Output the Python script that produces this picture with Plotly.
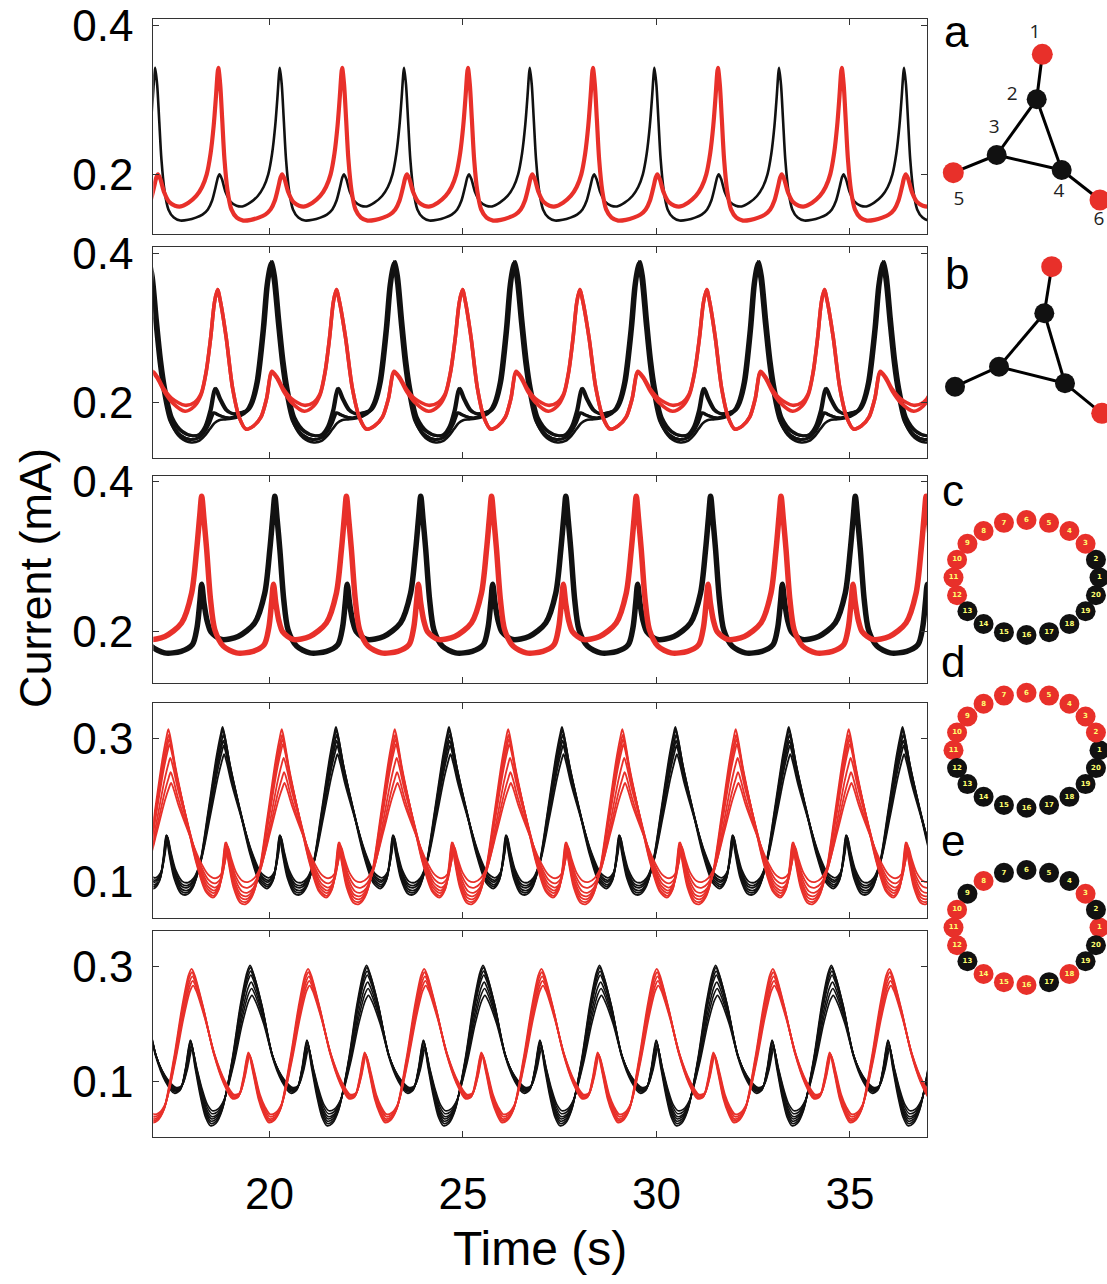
import numpy as np
import plotly.graph_objects as go

W, H = 1107, 1284
BLACK = '#111111'
RED = '#e8302a'
YELLOW = '#ffff70'

# ---------------- data ----------------
# Panel a : big-peak times (s) of each waveform, one-cycle template (s, mA)
a_black_peaks = [13.83, 17.05, 20.27, 23.48, 26.73, 29.95, 33.17, 36.40, 39.60]
a_red_peaks = [15.46, 18.68, 21.88, 25.13, 28.36, 31.59, 34.79, 38.00]
a_tpl_s = [0.00, 0.05, 0.10, 0.16, 0.24, 0.34, 0.48, 0.65, 0.85, 1.05, 1.22, 1.36, 1.47, 1.56,
           1.62, 1.66, 1.72, 1.82, 1.95, 2.10, 2.25, 2.45, 2.65, 2.80, 2.92, 3.02, 3.10, 3.16, 3.20, 3.22]
a_tpl_v = [0.343, 0.320, 0.275, 0.220, 0.178, 0.153, 0.142, 0.138, 0.139, 0.142, 0.146, 0.153, 0.165, 0.183,
           0.196, 0.200, 0.194, 0.176, 0.163, 0.158, 0.157, 0.162, 0.171, 0.183, 0.200, 0.228, 0.265, 0.305, 0.335, 0.343]

# Panel b
b_black_peaks = [16.88, 20.04, 23.22, 26.32, 29.55, 32.62, 35.85, 39.00]
b_red_peaks = [15.55, 18.66, 21.73, 24.99, 28.02, 31.30, 34.34, 37.50]
b_black_s = [0.00, 0.08, 0.19, 0.30, 0.40, 0.58, 0.83, 1.10, 1.30, 1.45, 1.58, 1.70, 1.82, 1.98, 2.13,
             2.35, 2.55, 2.66, 2.80, 2.96, 3.06, 3.16]
b_black_v1 = [0.390, 0.370, 0.310, 0.255, 0.219, 0.179, 0.161, 0.155, 0.157, 0.168, 0.190, 0.219, 0.205, 0.190, 0.185,
              0.186, 0.190, 0.200, 0.228, 0.300, 0.360, 0.390]
b_black_v2 = [0.387, 0.367, 0.308, 0.253, 0.217, 0.175, 0.156, 0.150, 0.152, 0.160, 0.172, 0.186, 0.183, 0.180, 0.179,
              0.183, 0.189, 0.199, 0.227, 0.298, 0.358, 0.387]
b_black_v3 = [0.385, 0.365, 0.306, 0.251, 0.215, 0.172, 0.152, 0.146, 0.148, 0.155, 0.164, 0.172, 0.176, 0.177, 0.178,
              0.181, 0.188, 0.198, 0.226, 0.296, 0.356, 0.385]
b_red_s = [0.00, 0.08, 0.23, 0.40, 0.58, 0.75, 0.95, 1.15, 1.30, 1.44, 1.58, 1.75, 1.96, 2.30, 2.55,
           2.72, 2.85, 2.97, 3.07, 3.15]
b_red_vA = [0.352, 0.335, 0.287, 0.219, 0.179, 0.164, 0.168, 0.180, 0.205, 0.240, 0.232, 0.215, 0.200, 0.188, 0.195,
            0.210, 0.240, 0.287, 0.335, 0.352]
b_red_vB = [0.352, 0.335, 0.287, 0.219, 0.179, 0.164, 0.168, 0.180, 0.205, 0.242, 0.234, 0.218, 0.205, 0.196, 0.200,
            0.212, 0.241, 0.287, 0.335, 0.352]

# Panel c
c_black_peaks = [16.39, 20.14, 23.91, 27.66, 31.40, 35.14, 38.89]
c_red_peaks = [14.50, 18.25, 21.99, 25.74, 29.48, 33.22, 36.97, 40.72]
c_tpl_s = [0.00, 0.06, 0.13, 0.23, 0.34, 0.56, 0.90, 1.33, 1.62, 1.74, 1.81, 1.86, 1.92, 2.00, 2.10,
           2.37, 2.80, 3.23, 3.49, 3.62, 3.70, 3.75]
c_tpl_v = [0.381, 0.350, 0.309, 0.242, 0.202, 0.180, 0.171, 0.173, 0.182, 0.205, 0.238, 0.263, 0.238, 0.214, 0.199,
           0.189, 0.193, 0.211, 0.251, 0.309, 0.355, 0.381]

# Panel d (bundles: peak / trough level and small time lag of each trace)
d_black_peaks = [15.86, 18.79, 21.72, 24.64, 27.56, 30.49, 33.42, 36.36, 39.29]
d_red_peaks = [14.46, 17.39, 20.32, 23.24, 26.17, 29.12, 32.05, 34.97, 37.90]
d_tpl_s = [0.00, 0.07, 0.19, 0.45, 0.71, 0.96, 1.15, 1.30, 1.40, 1.47, 1.55, 1.68, 1.85, 2.00, 2.15,
           2.34, 2.56, 2.77, 2.88, 2.93]
d_tpl_v = [0.315, 0.300, 0.266, 0.206, 0.150, 0.113, 0.105, 0.115, 0.145, 0.174, 0.150, 0.118, 0.099, 0.097, 0.105,
           0.136, 0.206, 0.276, 0.305, 0.315]
d_black_hi = [0.316, 0.312, 0.305, 0.297, 0.290, 0.278]
d_black_lo = [0.082, 0.085, 0.088, 0.092, 0.095, 0.099]
d_black_lag = [0.00, 0.01, 0.02, 0.02, 0.03, 0.04]
d_red_hi = [0.313, 0.305, 0.299, 0.292, 0.273, 0.253, 0.238]
d_red_lo = [0.069, 0.072, 0.076, 0.080, 0.085, 0.092, 0.100]
d_red_lag = [0.00, 0.01, 0.02, 0.03, 0.05, 0.06, 0.07]

# Panel e
e_black_peaks = [16.49, 19.50, 22.51, 25.52, 28.53, 31.53, 34.52, 37.52]
e_red_peaks = [14.99, 17.99, 21.00, 24.00, 27.03, 30.01, 33.01, 36.02, 39.00]
e_tpl_s = [0.00, 0.08, 0.30, 0.56, 0.82, 1.05, 1.20, 1.33, 1.46, 1.58, 1.72, 1.85, 1.98, 2.12, 2.28,
           2.54, 2.75, 2.92, 3.00]
e_red_v = [0.296, 0.285, 0.230, 0.154, 0.102, 0.075, 0.078, 0.110, 0.154, 0.120, 0.075, 0.050, 0.035, 0.038, 0.056,
           0.143, 0.230, 0.285, 0.296]
e_black_v = [0.302, 0.290, 0.235, 0.150, 0.105, 0.085, 0.090, 0.125, 0.175, 0.130, 0.080, 0.045, 0.030, 0.034, 0.056,
             0.143, 0.235, 0.290, 0.302]
e_black_hi = [0.302, 0.298, 0.292, 0.285, 0.273, 0.262, 0.250]
e_black_lo = [0.024, 0.028, 0.032, 0.036, 0.040, 0.045, 0.050]
e_black_lag = [0.00, 0.01, 0.015, 0.02, 0.03, 0.04, 0.05]
e_red_hi = [0.296, 0.290, 0.283, 0.275, 0.267]
e_red_lo = [0.030, 0.033, 0.036, 0.040, 0.044]
e_red_lag = [0.00, 0.01, 0.02, 0.03, 0.04]

# Axis ticks
x_ticks = [20, 25, 30, 35]
y_ticks_abc = [0.2, 0.4]
y_ticks_de = [0.1, 0.3]
panel_letters = ['a', 'b', 'c', 'd', 'e']

# Network diagrams (a, b): node positions in figure pixels, colours
net_edges = [(0, 1), (1, 2), (1, 3), (2, 3), (2, 4), (3, 5)]
net_a_x = [1042.3, 1036.7, 996.7, 1061.7, 953.3, 1100.0]
net_a_y = [54.3, 99.3, 155.0, 170.0, 172.7, 200.0]
net_a_red = [True, False, False, False, True, True]
net_a_lbl = ['1', '2', '3', '4', '5', '6']
net_a_lbl_x = [1035.0, 1012.3, 994.3, 1059.0, 959.0, 1099.0]
net_a_lbl_y = [33.3, 95.0, 128.3, 192.7, 200.0, 220.0]
net_b_x = [1051.7, 1044.3, 999.0, 1065.0, 955.0, 1101.7]
net_b_y = [266.7, 313.3, 366.7, 383.3, 386.7, 413.3]
net_b_red = [True, False, False, False, False, True]

# Ring diagrams (c, d, e): nodes 1..20, which are red
ring_nodes = list(range(1, 21))
ring_c_red = [3, 4, 5, 6, 7, 8, 9, 10, 11, 12]
ring_d_red = [2, 3, 4, 5, 6, 7, 8, 9, 10, 11]
ring_e_red = [1, 3, 8, 10, 11, 12, 14, 15, 16, 18]

# ---------------- layout geometry (pixels) ----------------
PX_L, PX_R = 153.3, 927.3
panel_px = [(19.3, 234.0), (247.3, 458.0), (476.0, 682.7), (703.3, 917.7), (931.3, 1137.3)]
panel_yrange = [(0.120, 0.408), (0.125, 0.409), (0.131, 0.408), (0.050, 0.349), (0.004, 0.361)]
ring_centers = [(1026.5, 577.5), (1026.5, 750.3), (1026.5, 927.5)]
RING_RX, RING_RY = 73.0, 57.5


def build(peaks, tpl_s, tpl_v, lag=0.0):
    s = np.asarray(tpl_s, float)
    v = np.asarray(tpl_v, float)
    ph = s / s[-1]
    ts, vs = [], []
    for p0, p1 in zip(peaks[:-1], peaks[1:]):
        ts.extend((p0 + lag + ph[:-1] * (p1 - p0)).tolist())
        vs.extend(v[:-1].tolist())
    ts.append(peaks[-1] + lag)
    vs.append(float(v[-1]))
    return ts, vs


def rescale(tpl_v, lo, hi):
    v = np.asarray(tpl_v, float)
    return (lo + (v - v.min()) * (hi - lo) / (v.max() - v.min())).tolist()


fig = go.Figure()


def add_line(i, peaks, s, v, color, width, lag=0.0):
    t, y = build(peaks, s, v, lag)
    fig.add_trace(go.Scatter(x=t, y=y, mode='lines',
                             line=dict(color=color, width=width, shape='spline', smoothing=0.8),
                             xaxis='x' + ('' if i == 1 else str(i)), yaxis='y' + ('' if i == 1 else str(i)),
                             hoverinfo='skip'))


# panel a
add_line(1, a_black_peaks, a_tpl_s, a_tpl_v, BLACK, 2.6)
add_line(1, a_red_peaks, a_tpl_s, a_tpl_v, RED, 4.2)
# panel b
for vv in (b_black_v1, b_black_v2, b_black_v3):
    add_line(2, b_black_peaks, b_black_s, vv, BLACK, 2.6)
add_line(2, b_black_peaks, b_black_s, b_black_v1, BLACK, 3.0, 0.04)
add_line(2, b_black_peaks, b_black_s, b_black_v2, BLACK, 3.0, -0.03)
for vv in (b_red_vA, b_red_vB):
    add_line(2, b_red_peaks, b_red_s, vv, RED, 3.6)
# panel c
add_line(3, c_black_peaks, c_tpl_s, c_tpl_v, BLACK, 5.5)
add_line(3, c_red_peaks, c_tpl_s, c_tpl_v, RED, 5.5)
# panel d
for hi, lo, lg in zip(d_black_hi, d_black_lo, d_black_lag):
    add_line(4, d_black_peaks, d_tpl_s, rescale(d_tpl_v, lo, hi), BLACK, 1.8, lg)
for hi, lo, lg in zip(d_red_hi, d_red_lo, d_red_lag):
    add_line(4, d_red_peaks, d_tpl_s, rescale(d_tpl_v, lo, hi), RED, 1.8, lg)
# panel e
for hi, lo, lg in zip(e_black_hi, e_black_lo, e_black_lag):
    add_line(5, e_black_peaks, e_tpl_s, rescale(e_black_v, lo, hi), BLACK, 1.6, lg)
for hi, lo, lg in zip(e_red_hi, e_red_lo, e_red_lag):
    add_line(5, e_red_peaks, e_tpl_s, rescale(e_red_v, lo, hi), RED, 1.8, lg)

# ---------------- diagrams (overlay axis in pixel units) ----------------
def add_network(nx, ny, red_flags):
    for a, b in net_edges:
        fig.add_trace(go.Scatter(x=[nx[a], nx[b]], y=[ny[a], ny[b]], mode='lines',
                                 line=dict(color='black', width=3), xaxis='x6', yaxis='y6',
                                 hoverinfo='skip', cliponaxis=False))
    fig.add_trace(go.Scatter(x=nx, y=ny, mode='markers', xaxis='x6', yaxis='y6', hoverinfo='skip',
                             marker=dict(size=[21 if r else 20 for r in red_flags], opacity=1,
                                         color=[RED if r else BLACK for r in red_flags], line=dict(width=0)),
                             cliponaxis=False))


add_network(net_a_x, net_a_y, net_a_red)
fig.add_trace(go.Scatter(x=net_a_lbl_x, y=net_a_lbl_y, mode='text', text=net_a_lbl, xaxis='x6', yaxis='y6',
                         textfont=dict(family='Open Sans, Liberation Sans', size=19, color='#222'),
                         hoverinfo='skip', cliponaxis=False))
add_network(net_b_x, net_b_y, net_b_red)

for (cx, cy), reds in zip(ring_centers, (ring_c_red, ring_d_red, ring_e_red)):
    ang = np.deg2rad((np.array(ring_nodes) - 1) * 18.0)
    rx = cx + RING_RX * np.cos(ang)
    ry = cy - RING_RY * np.sin(ang)
    fig.add_trace(go.Scatter(x=rx, y=ry, mode='markers+text', xaxis='x6', yaxis='y6', hoverinfo='skip',
                             text=['<b>%d</b>' % n for n in ring_nodes], textposition='middle center',
                             textfont=dict(family='DejaVu Sans', size=7, color=YELLOW),
                             marker=dict(size=20, opacity=1,
                                         color=[RED if n in reds else BLACK for n in ring_nodes],
                                         line=dict(width=0)),
                             cliponaxis=False))

# ---------------- axes ----------------
FONT = 'Liberation Sans, Arial, Helvetica, sans-serif'
layout = dict(width=W, height=H, margin=dict(l=0, r=0, t=0, b=0, autoexpand=False), paper_bgcolor='white',
              plot_bgcolor='rgba(0,0,0,0)', showlegend=False,
              font=dict(family=FONT, color='black'))
for i in range(1, 6):
    top, bot = panel_px[i - 1]
    sfx = '' if i == 1 else str(i)
    yt = y_ticks_abc if i <= 3 else y_ticks_de
    layout['xaxis' + sfx] = dict(domain=[PX_L / W, PX_R / W], range=[17, 37], tickvals=x_ticks,
                                 ticktext=[str(v) for v in x_ticks], automargin=False,
                                 ticks='inside', ticklen=6, tickcolor='#333', tickwidth=1,
                                 showline=True, linecolor='#333', linewidth=1, mirror='ticks',
                                 showgrid=False, zeroline=False, anchor='y' + sfx,
                                 showticklabels=(i == 5), tickfont=dict(size=44, family=FONT),
                                 ticklabelstandoff=18)
    layout['yaxis' + sfx] = dict(domain=[1 - bot / H, 1 - top / H], range=list(panel_yrange[i - 1]),
                                 tickvals=yt, ticktext=['%.1f' % v for v in yt], automargin=False,
                                 ticks='inside', ticklen=6, tickcolor='#333', tickwidth=1,
                                 showline=True, linecolor='#333', linewidth=1, mirror='ticks',
                                 showgrid=False, zeroline=False, anchor='x' + sfx,
                                 tickfont=dict(size=44, family=FONT), ticklabelstandoff=10)
layout['xaxis6'] = dict(domain=[930 / W, 1], range=[930, W], visible=False, anchor='y6', automargin=False)
layout['yaxis6'] = dict(domain=[0, 1], range=[H, 0], visible=False, anchor='x6', automargin=False)

ann = [dict(text='Current (mA)', x=35 / W, y=1 - 578 / H, xref='paper', yref='paper', showarrow=False,
            textangle=-90, font=dict(size=45, family=FONT), xanchor='center', yanchor='middle'),
       dict(text='Time (s)', x=540 / W, y=1 - 1248 / H, xref='paper', yref='paper', showarrow=False,
            font=dict(size=48, family=FONT), xanchor='center', yanchor='middle')]
letter_pos = [(956.7, 31.7), (956.7, 273.0), (953.3, 490.0), (953.3, 661.0), (953.3, 840.0)]
for L, (lx, ly) in zip(panel_letters, letter_pos):
    ann.append(dict(text=L, x=lx, y=ly, xref='x6', yref='y6', showarrow=False,
                    font=dict(size=44, family=FONT), xanchor='center', yanchor='middle'))
layout['annotations'] = ann
fig.update_layout(**layout)

fig.write_html('out.html', config={'displayModeBar': False},
               post_script="document.body.style.margin='0';document.body.style.padding='0';"
                           "document.documentElement.style.margin='0';")
